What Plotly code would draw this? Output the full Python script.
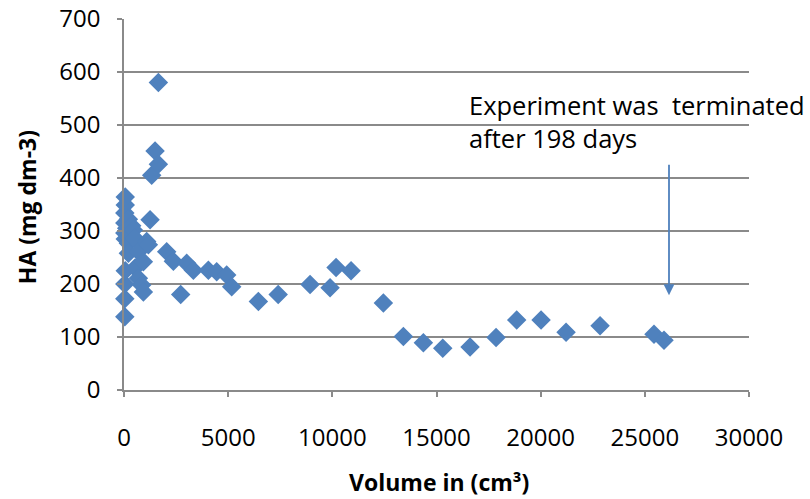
import plotly.graph_objects as go

# Humic acid concentration versus cumulative leachate volume
volume_cm3 = [40, 40, 40, 60, 60, 40, 40, 40, 60, 60, 130, 210, 210, 210, 290, 370,
              450, 530, 530, 690, 690, 850, 930, 930, 1090, 1170, 1250, 1330, 1490,
              1650, 1650, 2050, 2370, 2720, 3010, 3330, 4050, 4450, 4930, 5170, 6450,
              7400, 8930, 9890, 10180, 10900, 12450, 13410, 14370, 15300, 16610,
              17860, 18850, 20020, 21220, 22850, 25440, 25920]
ha_mg_dm3 = [138, 172, 200, 225, 285, 296, 315, 334, 349, 364, 305, 322, 277, 258, 295, 310,
             302, 286, 230, 261, 211, 198, 185, 242, 280, 274, 321, 405, 451,
             426, 580, 261, 243, 180, 239, 226, 226, 223, 217, 195, 167,
             180, 199, 193, 231, 225, 164, 101, 89, 79, 81,
             99, 132, 132, 109, 121, 105, 94]

x_ticks = [0, 5000, 10000, 15000, 20000, 25000, 30000]
y_ticks = [0, 100, 200, 300, 400, 500, 600, 700]

note_text = "Experiment was  terminated<br>after 198 days"
end_volume = 26160          # volume at which the run stopped
arrow_from, arrow_to = 428, 179

blue = "#4F81BD"
grid = "#8A8A8A"
font_family = "'Open Sans', Lato, sans-serif"

fig = go.Figure()
fig.add_trace(go.Scatter(
    x=volume_cm3, y=ha_mg_dm3, mode="markers",
    marker=dict(symbol="diamond", size=15, color=blue, line=dict(width=0)),
    showlegend=False, hoverinfo="x+y", cliponaxis=False,
))

fig.update_layout(
    width=810, height=499,
    margin=dict(l=124, r=61, t=19, b=109, autoexpand=False),
    paper_bgcolor="white", plot_bgcolor="white",
    font=dict(family=font_family, size=24, color="#000000"),
    xaxis=dict(
        range=[0, 30000], tickvals=x_ticks, ticktext=[str(v) for v in x_ticks],
        showgrid=False, zeroline=False, automargin=False,
        showline=True, linecolor=grid, linewidth=1.5,
        ticks="outside", ticklen=5, tickcolor=grid, tickwidth=1.5,
        ticklabelstandoff=20,
    ),
    yaxis=dict(
        range=[0, 700], tickvals=y_ticks, ticktext=[str(v) for v in y_ticks],
        showgrid=True, gridcolor=grid, gridwidth=1.5, zeroline=False,
        automargin=False,
        showline=True, linecolor=grid, linewidth=1.5,
        ticks="outside", ticklen=5, tickcolor=grid, tickwidth=1.5,
        ticklabelstandoff=12,
    ),
    annotations=[
        dict(text="<b>HA (mg dm-3)</b>", xref="paper", yref="paper",
             x=-0.155, y=0.493, textangle=-90, showarrow=False,
             xanchor="center", yanchor="middle", font=dict(size=23)),
        dict(text="<b>Volume in (cm³)</b>", xref="paper", yref="paper",
             x=0.5040, y=-0.2480, showarrow=False,
             xanchor="center", yanchor="middle", font=dict(size=23)),
        dict(text=note_text, xref="x", yref="y", x=16464, y=506,
             showarrow=False, xanchor="left", yanchor="middle", align="left",
             font=dict(size=25.5)),
        dict(text="", xref="x", yref="y", x=end_volume, y=arrow_to,
             axref="x", ayref="y", ax=end_volume, ay=arrow_from,
             showarrow=True, arrowhead=2, arrowsize=1.2, arrowwidth=1.8,
             arrowcolor=blue),
    ],
)

fig.write_html("out.html")
